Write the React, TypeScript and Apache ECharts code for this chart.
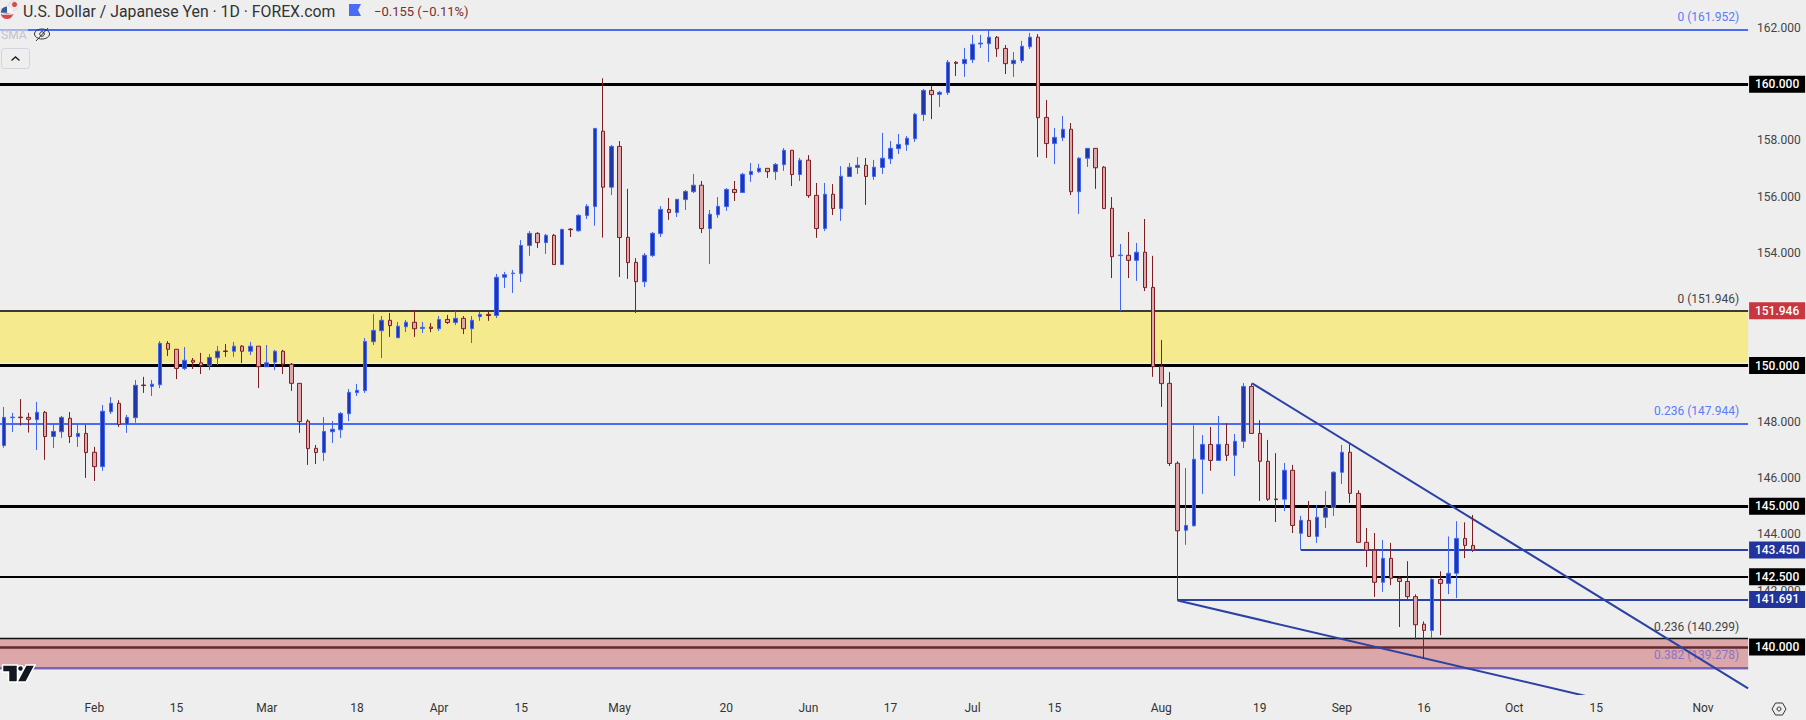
import React, { useEffect, useRef } from "react";
import * as echarts from "echarts";

// [open, close, low, high], one row per trading day from 2024-01-17
const candles: number[][] = [
  [147.16,148.16,147.08,148.53],[148.15,148.17,147.64,148.32],[148.17,148.15,147.87,148.81],[148.16,148.09,147.62,148.32],
  [148.08,148.34,147.00,148.71],[148.34,147.48,146.65,148.39],[147.48,147.66,147.07,147.95],[147.65,148.16,147.43,148.21],
  [148.13,147.48,147.25,148.35],[147.48,147.59,147.11,147.95],[147.59,146.91,146.01,147.89],[146.92,146.41,145.90,147.11],
  [146.41,148.38,146.26,148.60],[148.36,148.66,148.28,148.88],[148.66,147.91,147.82,148.77],[147.91,148.16,147.61,148.25],
  [148.15,149.30,147.97,149.49],[149.31,149.29,149.03,149.60],[149.26,149.34,148.92,149.49],[149.32,150.79,149.20,150.87],
  [150.79,150.58,150.34,150.87],[150.58,149.90,149.52,150.58],[149.90,150.19,149.84,150.66],[150.19,150.12,149.88,150.27],
  [150.10,150.00,149.70,150.45],[150.00,150.29,149.84,150.41],[150.28,150.51,150.02,150.70],[150.52,150.50,150.31,150.77],
  [150.51,150.69,150.31,150.84],[150.69,150.51,150.09,150.73],[150.51,150.69,150.38,150.84],[150.69,149.96,149.20,150.69],
  [149.96,150.10,149.96,150.73],[150.12,150.51,149.84,150.56],[150.51,150.05,149.70,150.56],[150.05,149.37,149.10,150.09],
  [149.37,148.01,147.61,149.37],[148.03,147.05,146.47,148.09],[147.06,146.91,146.50,147.18],[146.91,147.66,146.61,148.17],
  [147.65,147.74,147.25,148.03],[147.72,148.30,147.43,148.35],[148.29,149.05,148.03,149.17],[149.04,149.12,148.92,149.35],
  [149.11,150.86,149.03,150.98],[150.85,151.25,150.73,151.83],[151.24,151.61,150.27,151.76],[151.61,151.42,151.02,151.87],
  [150.99,151.40,150.99,151.55],[151.38,151.54,151.19,151.62],[151.54,151.31,151.02,151.98],[151.32,151.36,151.16,151.55],
  [151.37,151.32,151.19,151.51],[151.31,151.64,151.23,151.76],[151.64,151.53,151.48,151.80],[151.53,151.68,151.44,151.93],
  [151.68,151.31,151.12,151.76],[151.31,151.61,150.80,151.76],[151.74,151.82,151.59,151.91],[151.82,151.78,151.59,151.94],
  [151.78,153.14,151.69,153.26],[153.14,153.23,152.76,153.33],[153.27,153.29,152.58,153.40],[153.27,154.27,152.97,154.46],
  [154.27,154.70,153.90,154.78],[154.70,154.37,154.18,154.74],[154.37,154.63,153.97,154.68],[154.63,153.59,153.59,154.68],
  [153.59,154.84,153.58,154.86],[154.85,154.83,154.57,154.88],[154.79,155.34,154.76,155.38],[155.33,155.66,155.21,155.74],
  [155.65,158.43,154.97,158.43],[158.33,156.34,154.55,160.21],[156.34,157.79,156.06,157.84],[157.79,154.55,153.15,157.98],
  [154.56,153.66,153.08,156.28],[153.67,152.98,151.87,153.82],[152.98,153.92,152.79,154.00],[153.91,154.70,153.86,154.75],
  [154.69,155.55,154.57,155.67],[155.55,155.44,155.18,155.96],[155.44,155.91,155.28,155.92],[155.90,156.19,155.53,156.24],
  [156.18,156.41,156.13,156.81],[156.41,154.87,154.71,156.56],[154.87,155.38,153.61,155.53],[155.36,155.66,155.25,155.99],
  [155.65,156.26,155.50,156.31],[156.26,156.15,155.85,156.56],[156.15,156.80,156.15,156.85],[156.79,156.90,156.53,157.20],
  [156.89,157.01,156.85,157.17],[157.01,156.89,156.67,157.01],[156.89,157.15,156.60,157.20],[157.14,157.65,156.92,157.73],
  [157.65,156.79,156.38,157.65],[156.79,157.30,156.56,157.38],[157.30,156.04,155.96,157.48],[156.05,154.87,154.54,156.49],
  [154.87,156.09,154.78,156.49],[156.09,155.58,155.35,156.45],[155.58,156.73,155.14,157.09],[156.72,157.05,156.72,157.20],
  [157.04,157.12,156.81,157.41],[157.12,156.72,155.71,157.38],[156.72,157.05,156.60,157.31],[157.04,157.37,156.81,158.27],
  [157.35,157.72,157.16,157.98],[157.71,157.86,157.52,158.23],[157.85,158.08,157.63,158.16],[158.06,158.93,157.95,158.98],
  [158.92,159.78,158.69,159.83],[159.78,159.63,158.76,159.94],[159.64,159.71,159.19,159.76],[159.70,160.78,159.62,160.86],
  [160.78,160.74,160.29,160.82],[160.73,160.88,160.26,161.29],[160.87,161.42,160.75,161.75],[161.43,161.46,161.29,161.75],
  [161.44,161.67,160.79,161.95],[161.67,161.26,160.97,161.71],[161.27,160.73,160.36,161.39],[160.73,160.85,160.26,161.14],
  [160.84,161.35,160.75,161.54],[161.33,161.67,161.25,161.82],[161.67,158.81,157.41,161.78],[158.82,157.89,157.38,159.44],
  [157.89,158.11,157.16,158.44],[158.10,158.40,157.98,158.87],[158.40,156.18,156.06,158.62],[156.18,157.37,155.39,157.41],
  [157.37,157.72,157.06,157.72],[157.72,157.03,156.28,157.72],[157.05,155.58,155.58,157.09],[155.59,153.87,153.11,155.99],
  [153.91,153.93,151.94,154.32],[153.92,153.74,153.11,154.75],[153.74,154.03,153.01,154.36],[154.03,152.77,152.65,155.21],
  [152.78,149.96,149.60,153.90],[149.97,149.36,148.53,150.91],[149.37,146.52,146.43,149.77],[146.53,144.13,141.65,146.60],
  [144.15,144.32,143.63,146.36],[144.31,146.67,144.28,147.88],[146.67,147.20,145.44,147.53],[147.20,146.63,146.26,147.82],
  [146.63,147.20,146.63,148.21],[147.20,146.81,146.61,147.95],[146.81,147.31,146.08,147.57],[147.31,149.26,147.07,149.38],
  [149.26,147.59,147.59,149.37],[147.59,146.60,145.19,148.06],[146.60,145.25,145.19,147.36],[145.26,145.24,144.44,146.89],
  [145.25,146.28,144.83,146.54],[146.28,144.32,144.05,146.47],[144.04,144.50,143.45,144.66],[144.50,143.93,143.93,145.19],
  [143.93,144.61,143.70,145.05],[144.61,144.96,144.23,145.54],[144.96,146.21,144.66,146.24],[146.21,146.92,145.79,147.18],
  [146.92,145.46,145.12,147.21],[145.46,143.72,143.72,145.57],[143.72,143.44,142.84,144.23],[143.44,142.30,141.78,144.05],
  [142.30,143.15,141.96,143.80],[143.15,142.44,142.20,143.70],[142.44,142.33,140.71,142.50],[142.33,141.79,141.71,143.05],
  [141.79,140.79,140.27,141.87],[140.81,140.59,139.59,140.91],[140.59,142.40,140.31,142.44],[142.40,142.26,140.42,142.69],
  [142.26,142.62,141.88,143.93],[142.62,143.86,141.74,144.47],[143.86,143.61,143.16,144.43],[143.61,143.44,143.38,144.69],
];

const firstDay = "2024-01-17";
const categoryCount = 213;
const xTicks: [string, string][] = [
  ["2024-02-01","Feb"],["2024-02-15","15"],["2024-03-01","Mar"],["2024-03-18","18"],["2024-04-01","Apr"],["2024-04-15","15"],
  ["2024-05-01","May"],["2024-05-20","20"],["2024-06-03","Jun"],["2024-06-17","17"],["2024-07-01","Jul"],["2024-07-15","15"],
  ["2024-08-01","Aug"],["2024-08-19","19"],["2024-09-02","Sep"],["2024-09-16","16"],["2024-10-01","Oct"],["2024-10-15","15"],["2024-11-01","Nov"],
];
// the ticks at 140, 150, 152 and 160 are covered by the price tags in the reference
const yTicks = [142,144,146,148,154,156,158,162];
const yMin = 138.33;
const yMax = 162.992;

// horizontal levels: price, colour, width
const blackLevels: [number, string, number][] = [
  [160, "#000000", 3],
  [151.946, "#000000", 1.5],
  [150, "#000000", 3],
  [145, "#000000", 3],
  [142.5, "#000000", 2],
  [140.299, "#111111", 1.3],
  [140, "#642a2d", 2.6],
];
const fibLevels: [number, string, number][] = [
  [161.952, "#4a6cf5", 2],
  [147.944, "#4a6cf5", 2],
  [139.278, "#7a62b8", 2],
];
const fibLabels: [number, string, string][] = [
  [161.952, "0 (161.952)", "#5b7cf7"],
  [151.946, "0 (151.946)", "#444444"],
  [147.944, "0.236 (147.944)", "#5b7cf7"],
  [140.299, "0.236 (140.299)", "#444444"],
  [139.278, "0.382 (139.278)", "#8a72c8"],
];
const tags: [number, string, string][] = [
  [160, "160.000", "#000000"],
  [151.946, "151.946", "#c8363f"],
  [150, "150.000", "#000000"],
  [145, "145.000", "#000000"],
  [143.45, "143.450", "#22349b"],
  [142.5, "142.500", "#000000"],
  [141.691, "141.691", "#22349b"],
  [140, "140.000", "#000000"],
];
// partial horizontals: start bar, price
const supportLines: [number, number][] = [[158, 143.45], [143, 141.691]];
// trendlines: [bar, price] start and end
const upperTrend: number[][] = [[152.07, 149.37], [212.5, 138.53]];
const lowerTrend: number[][] = [[143, 141.65], [212.5, 136.91]];
// zones: top, bottom
const yellowZone = [151.946, 150.1];
const redZone = [140.299, 139.18];

const NAVY = "#2b41a3";
const FONT = "Roboto, sans-serif";
const CLEAR = "rgba(0,0,0,0)";

function weekdays(start: string, n: number): string[] {
  const out: string[] = [];
  const d = new Date(start + "T00:00:00Z");
  while (out.length < n) {
    const w = d.getUTCDay();
    if (w !== 0 && w !== 6) out.push(d.toISOString().slice(0, 10));
    d.setUTCDate(d.getUTCDate() + 1);
  }
  return out;
}

export default function App() {
  const ref = useRef<HTMLDivElement>(null);
  useEffect(() => {
    document.body.style.margin = "0";
    const chart = echarts.init(ref.current!, undefined, { renderer: "svg" });
    const categories = weekdays(firstDay, categoryCount);
    const tickMap = new Map(xTicks);
    const L = -0.5;
    const R = 212.5;
    const hline = (p: number, color: string, width: number, x0 = L, label: any = { show: false }) => [
      { coord: [x0, p], lineStyle: { color, width, type: "solid", opacity: 1 }, label },
      { coord: [R, p] },
    ];
    const lineData: any[] = [
      ...blackLevels.map(([p, c, w]) => hline(p, c, w)),
      ...fibLevels.map(([p, c, w]) => hline(p, c, w)),
      ...supportLines.map(([i, p]) => hline(p, NAVY, 2, i)),
    ];
    const labelData: any[] = [
      ...fibLabels.map(([p, text, color]) => [
        {
          coord: [L, p],
          lineStyle: { color: CLEAR, width: 0, opacity: 1 },
          label: {
            show: true, position: "insideEndTop", distance: [9, 6], formatter: text, color, opacity: 1,
            fontFamily: FONT, fontSize: 12,
          },
        },
        { coord: [R, p] },
      ]),
      ...tags.map(([p, text, bg]) => [
        {
          coord: [L, p],
          lineStyle: { color: CLEAR, width: 0, opacity: 1 },
          label: {
            show: true, position: "end", distance: [29, 0], formatter: text, color: "#ffffff", opacity: 1,
            backgroundColor: bg, width: 56, height: 17, lineHeight: 17, align: "center",
            fontFamily: FONT, fontSize: 12, fontWeight: 500,
          },
        },
        { coord: [R, p] },
      ]),
    ];
    const gray = "#333333";
    const option: any = {
      animation: false,
      backgroundColor: "#eeeeee",
      grid: { left: -1.5, top: 0, width: 1749.6, bottom: 26, containLabel: false },
      xAxis: [
        {
          type: "category",
          data: categories,
          boundaryGap: true,
          axisLine: { show: false },
          axisTick: { show: false },
          splitLine: { show: false },
          axisLabel: {
            interval: (_: number, v: string) => tickMap.has(v),
            formatter: (v: string) => tickMap.get(v) ?? "",
            color: gray, fontFamily: FONT, fontSize: 12, margin: 8, hideOverlap: false,
          },
        },
        { type: "value", min: L, max: R, show: false },
      ],
      yAxis: {
        type: "value",
        position: "right",
        min: yMin,
        max: yMax,
        axisLine: { show: false },
        axisTick: { show: false },
        splitLine: { show: false },
        axisLabel: {
          customValues: yTicks,
          formatter: (v: number) => v.toFixed(3),
          color: "#444444", fontFamily: FONT, fontSize: 12, margin: 9,
        },
      },
      series: [
        {
          type: "line", name: "levels", xAxisIndex: 1, data: [], silent: true, z: 1,
          markArea: {
            silent: true, z: 1,
            data: [
              [{ yAxis: yellowZone[0], itemStyle: { color: "#f5eb8e", opacity: 1 } }, { yAxis: yellowZone[1] }],
              [{ yAxis: redZone[0], itemStyle: { color: "#dba7a9", opacity: 1 } }, { yAxis: redZone[1] }],
            ],
          },
          markLine: { silent: true, z: 3, symbol: ["none", "none"], precision: 3, data: lineData },
        },
        {
          type: "line", name: "labels", xAxisIndex: 1, data: [], silent: true, z: 4,
          markLine: { silent: true, z: 4, symbol: ["none", "none"], precision: 3, data: labelData },
        },
        {
          type: "line", name: "upper trend", xAxisIndex: 1, data: upperTrend, showSymbol: false, symbol: "none",
          lineStyle: { color: NAVY, width: 2 }, silent: true, z: 5,
        },
        {
          type: "line", name: "lower trend", xAxisIndex: 1, data: lowerTrend, showSymbol: false, symbol: "none",
          lineStyle: { color: NAVY, width: 2 }, silent: true, z: 5,
        },
        {
          type: "candlestick",
          name: "USDJPY",
          xAxisIndex: 0,
          data: candles,
          barWidth: 4,
          z: 10,
          silent: true,
          itemStyle: {
            color: "#2236a8",
            color0: "#e0a5a6",
            borderColor: "#3f66f5",
            borderColor0: "#7b1f24",
            borderWidth: 1,
          },
        },
      ],
      graphic: [
        // faded strip where the legend covers the top fib line
        { type: "rect", shape: { x: 0, y: 27, width: 28, height: 4 }, style: { fill: "#eeeeee", opacity: 0.55 }, z: 50 },
        // flag
        { type: "circle", shape: { cx: 13, cy: 6, r: 5 }, style: { fill: "#e6e6ea", stroke: "#cfcfd6", lineWidth: 0.5 }, z: 50 },
        { type: "circle", shape: { cx: 14.5, cy: 4.5, r: 2.5 }, style: { fill: "#d84a4a" }, z: 50 },
        { type: "circle", shape: { cx: 7, cy: 12.7, r: 6.3 }, style: { fill: "#f4f4f4" }, z: 51 },
        { type: "sector", shape: { cx: 7, cy: 12.7, r: 6.3, r0: 0, startAngle: 0.25, endAngle: 2.9 }, style: { fill: "#d6474b" }, z: 52 },
        { type: "rect", shape: { x: 2, y: 13.5, width: 10, height: 1.2 }, style: { fill: "#f4f4f4" }, z: 53 },
        { type: "sector", shape: { cx: 7, cy: 12.7, r: 6.3, r0: 0, startAngle: 3.14, endAngle: 4.71 }, style: { fill: "#3a5a9c" }, z: 53 },
        { type: "text", style: { x: 23, y: 11, text: "U.S. Dollar / Japanese Yen · 1D · FOREX.com", fill: "#333333", font: "15.8px " + FONT, textVerticalAlign: "middle" }, z: 50 },
        { type: "polygon", shape: { points: [[349, 4], [361, 4], [358, 10], [361, 16], [349, 16]] }, style: { fill: "#4a6cf5" }, z: 50 },
        { type: "text", style: { x: 374, y: 11, text: "−0.155 (−0.11%)", fill: "#7b2d30", font: "13px " + FONT, textVerticalAlign: "middle" }, z: 50 },
        { type: "text", style: { x: 1, y: 35, text: "SMA", fill: "#c1c4cd", font: "12px " + FONT, textVerticalAlign: "middle" }, z: 50 },
        // eye-off icon
        { type: "ellipse", shape: { cx: 42, cy: 34, rx: 7.5, ry: 5 }, style: { fill: "none", stroke: "#333333", lineWidth: 1 }, z: 50 },
        { type: "circle", shape: { cx: 42, cy: 34, r: 2.3 }, style: { fill: "none", stroke: "#333333", lineWidth: 1 }, z: 50 },
        { type: "line", shape: { x1: 36, y1: 41, x2: 48, y2: 28 }, style: { stroke: "#333333", lineWidth: 1 }, z: 50 },
        // collapse button
        { type: "rect", shape: { x: 1.5, y: 48.5, width: 28, height: 20, r: 3 }, style: { fill: "#eeeeee", stroke: "#d1d4dc", lineWidth: 1 }, z: 50 },
        { type: "polyline", shape: { points: [[11.5, 60.5], [15.5, 57], [19.5, 60.5]] }, style: { fill: "none", stroke: "#222222", lineWidth: 1.4 }, z: 51 },
        // logo
        { type: "polygon", shape: { points: [[2.5, 665], [17.5, 665], [17.5, 682], [8.5, 682], [8.5, 672], [2.5, 672]] }, style: { fill: "#131722", stroke: "#ffffff", lineWidth: 1.5 }, z: 50 },
        { type: "circle", shape: { cx: 20.5, cy: 668.5, r: 3 }, style: { fill: "#131722", stroke: "#ffffff", lineWidth: 1.5 }, z: 50 },
        { type: "polygon", shape: { points: [[26, 665], [35, 665], [26, 682], [17, 682]] }, style: { fill: "#131722", stroke: "#ffffff", lineWidth: 1.5 }, z: 50 },
        // settings icon
        { type: "polygon", shape: { points: [[1772, 709], [1775.5, 703], [1782.5, 703], [1786, 709], [1782.5, 715], [1775.5, 715]] }, style: { fill: "none", stroke: "#333333", lineWidth: 1 }, z: 50 },
        { type: "circle", shape: { cx: 1779, cy: 709, r: 2 }, style: { fill: "none", stroke: "#333333", lineWidth: 1 }, z: 50 },
      ],
    };
    chart.setOption(option);
    return () => chart.dispose();
  }, []);
  return <div ref={ref} style={{ position: "absolute", left: 0, top: 0, width: 1806, height: 720 }} />;
}
